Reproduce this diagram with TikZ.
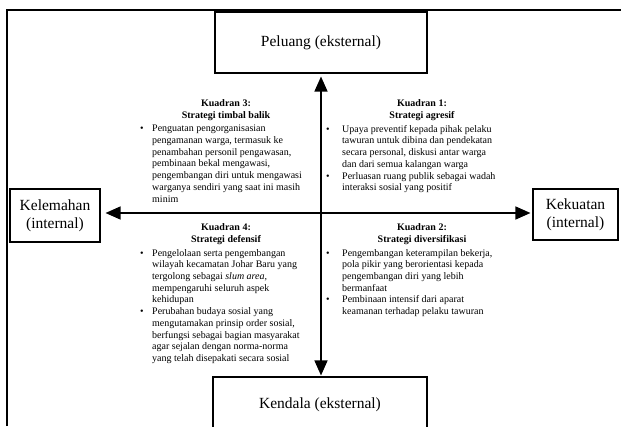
\documentclass[tikz,border=0pt]{standalone}
\usepackage{fontspec}
\setmainfont{Liberation Serif}
\usetikzlibrary{arrows.meta,positioning}

\newcommand{\bul}[1]{\makebox[#1][l]{\textbullet}}
\newcommand{\ind}[1]{\hspace*{#1}}

\begin{document}
\begin{tikzpicture}[x=1pt, y=-1pt,
  box/.style={draw, line width=1.1pt, inner sep=0pt, align=center,
    font=\fontsize{15.5}{18}\selectfont},
  axis/.style={line width=1.4pt, -{Triangle[length=15pt, width=13pt]}},
  qtitle/.style={inner sep=0pt, align=center,
    font=\fontsize{10}{11.5}\selectfont\bfseries},
  qlist/.style={inner sep=0pt, align=left, anchor=north west,
    font=\fontsize{10}{11.7}\selectfont}]
\useasboundingbox (0,0) rectangle (621,426);
% Outer frame
\draw[line width=1.1pt] (7,426) -- (7,10) -- (621,10);
% Boxes
\node[box, minimum width=212pt, minimum height=61pt] (peluang) at (321,42.5)
  {Peluang (eksternal)};
\node[box, minimum width=214pt, minimum height=56pt] (kendala) at (320,405)
  {Kendala (eksternal)};
\node[box, minimum width=90pt, minimum height=53pt] (kelemahan) at (55,215.5)
  {Kelemahan\\(internal)};
\node[box, minimum width=85pt, minimum height=51pt] (kekuatan) at (575.5,214.5)
  {Kekuatan\\(internal)};
% Axes
\coordinate (o) at (321,213);
\draw[axis] (o) -- ([yshift=-3pt]o |- peluang.south);
\draw[axis] (o) -- ([yshift=1pt]o |- kendala.north);
\draw[axis] (o) -- ([xshift=5pt]o -| kelemahan.east);
\draw[axis] (o) -- ([xshift=-2pt]o -| kekuatan.west);
% Kuadran 3
\node[qtitle] (k3) at (226,110) {Kuadran 3:\\Strategi timbal balik};
\node[qlist] (k3list) at (140,125)
  {\bul{12pt}Penguatan pengorganisasian\\
   \ind{12pt}pengamanan warga, termasuk ke\\
   \ind{12pt}penambahan personil pengawasan,\\
   \ind{12pt}pembinaan bekal mengawasi,\\
   \ind{12pt}pengembangan diri untuk mengawasi\\
   \ind{12pt}warganya sendiri yang saat ini masih\\
   \ind{12pt}minim};
% Kuadran 1
\node[qtitle] (k1) at (422,110) {Kuadran 1:\\Strategi agresif};
\node[qlist] (k1list) at (326,125)
  {\bul{16pt}Upaya preventif kepada pihak pelaku\\
   \ind{16pt}tawuran untuk dibina dan pendekatan\\
   \ind{16pt}secara personal, diskusi antar warga\\
   \ind{16pt}dan dari semua kalangan warga\\
   \bul{16pt}Perluasan ruang publik sebagai wadah\\
   \ind{16pt}interaksi sosial yang positif};
% Kuadran 4
\node[qtitle] (k4) at (226,234) {Kuadran 4:\\Strategi defensif};
\node[qlist] (k4list) at (140,249)
  {\bul{12pt}Pengelolaan serta pengembangan\\
   \ind{12pt}wilayah kecamatan Johar Baru yang\\
   \ind{12pt}tergolong sebagai \textit{slum area,}\\
   \ind{12pt}mempengaruhi seluruh aspek\\
   \ind{12pt}kehidupan\\
   \bul{12pt}Perubahan budaya sosial yang\\
   \ind{12pt}mengutamakan prinsip order sosial,\\
   \ind{12pt}berfungsi sebagai bagian masyarakat\\
   \ind{12pt}agar sejalan dengan norma-norma\\
   \ind{12pt}yang telah disepakati secara sosial};
% Kuadran 2
\node[qtitle] (k2) at (422,234) {Kuadran 2:\\Strategi diversifikasi};
\node[qlist] (k2list) at (326,249)
  {\bul{16pt}Pengembangan keterampilan bekerja,\\
   \ind{16pt}pola pikir yang berorientasi kepada\\
   \ind{16pt}pengembangan diri yang lebih\\
   \ind{16pt}bermanfaat\\
   \bul{16pt}Pembinaan intensif dari aparat\\
   \ind{16pt}keamanan terhadap pelaku tawuran};
\end{tikzpicture}
\end{document}
